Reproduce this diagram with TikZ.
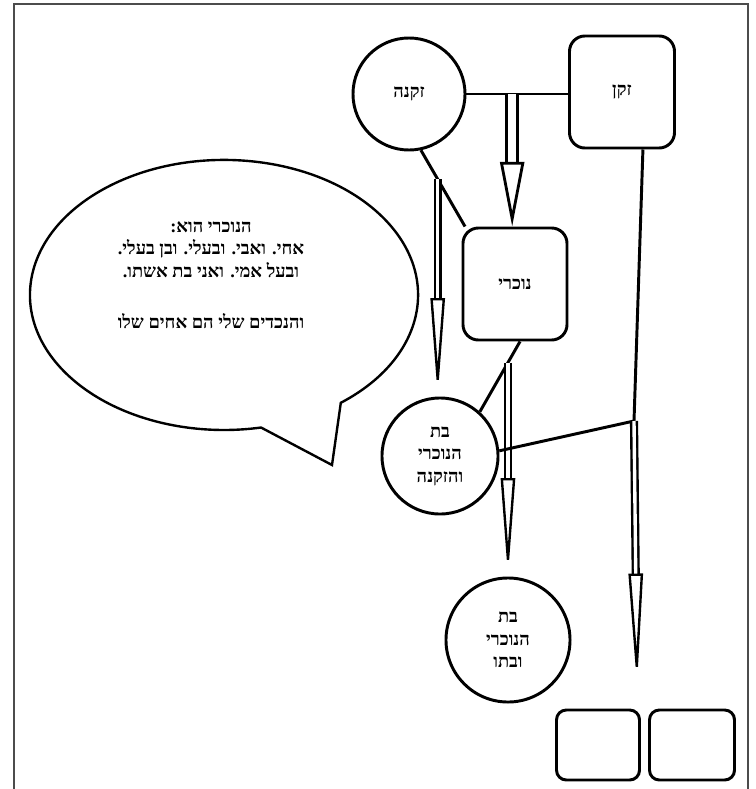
\documentclass[tikz,border=0pt]{standalone}
\usepackage{fontspec}
\usepackage{tikz}
\usetikzlibrary{arrows.meta}
\newfontfamily\hebfont[Script=Hebrew]{Liberation Serif}
\TeXXeTstate=1
\newcommand{\heb}[1]{\beginR #1\endR}

\begin{document}
\begin{tikzpicture}[x=0.025cm, y=-0.025cm, line width=2.1pt,
	every node/.style={font=\hebfont\bfseries\fontsize{13}{16}\selectfont, align=center},
	person/.style={draw, circle, inner sep=0pt, minimum size=#1},
	boxed/.style={draw, rounded corners=11pt, minimum width=#1, minimum height=2.8cm},
	bigarrow/.style={double=white, double distance=6pt, line width=2pt, -{Triangle[fill=white, line width=2pt 0 0, length=46pt 0 0, width=17pt 0 0]}},
	thinarrow/.style={double=white, double distance=2.4pt, line width=1.7pt, -{Triangle[fill=white, line width=1.7pt 0 0, length=#1 0 0, width=10pt 0 0]}}]
	\useasboundingbox (0,0) rectangle (756,789);
	\draw[line width=1.4pt, black!70] (14,789) -- (14,4) -- (748,4) -- (748,789);

	\node[person=2.8cm] (zqena) at (409,94) {\heb{זקנה}};
	\node[boxed=2.625cm] (zaqen) at (622,92) {\heb{זקן}};
	\node[boxed=2.6cm] (nokhri) at (515,284) {\heb{נוכרי}};
	\node[person=2.9cm] (batA) at (440,456) {\heb{בת}\\\heb{הנוכרי}\\\heb{והזקנה}};
	\node[person=3.1cm] (batB) at (508,640) {\heb{בת}\\\heb{הנוכרי}\\\heb{ובתו}};
	\foreach \n/\x/\w in {boxL/598/2.075cm, boxR/692/2.125cm}
		\node[draw, rounded corners=7pt, minimum width=\w, minimum height=1.75cm] (\n) at (\x,745) {};

	\coordinate (tail) at (332,465);
	\draw[line width=1.7pt] (tail) -- (340.8,402.8) arc[start angle=-53, end angle=281, x radius=4.85cm, y radius=3.375cm] -- cycle;
	\node (note) at (211,275) {\heb{הנוכרי הוא:}\\\heb{אחי. ואבי. ובעלי. ובן בעלי.}\\\heb{ובעל אמי. ואני בת אשתו.}\\[20pt]\heb{והנכדים שלי הם אחים שלו}};

	\draw (zqena.east) -- coordinate[pos=0.45] (mid) (zqena.east -| zaqen.west);
	\draw[bigarrow] (mid) -- (mid |- nokhri.north);
	\draw (zqena.-78) -- coordinate[pos=0.38] (lstart) (nokhri.131);
	\draw[thinarrow=70pt] (lstart) -- (lstart |- batA.north);
	\draw (nokhri.-85) -- coordinate[pos=0.3] (rstart) (batA.48);
	\draw[thinarrow=70pt] (rstart) -- (rstart |- batB.north);
	\coordinate (kink) at (634,421);
	\coordinate (kend) at (637,686);
	\draw (zaqen.-70) -- (kink) -- (batA.5);
	\draw[thinarrow=80pt] (kink) -- (kend);
\end{tikzpicture}
\end{document}
